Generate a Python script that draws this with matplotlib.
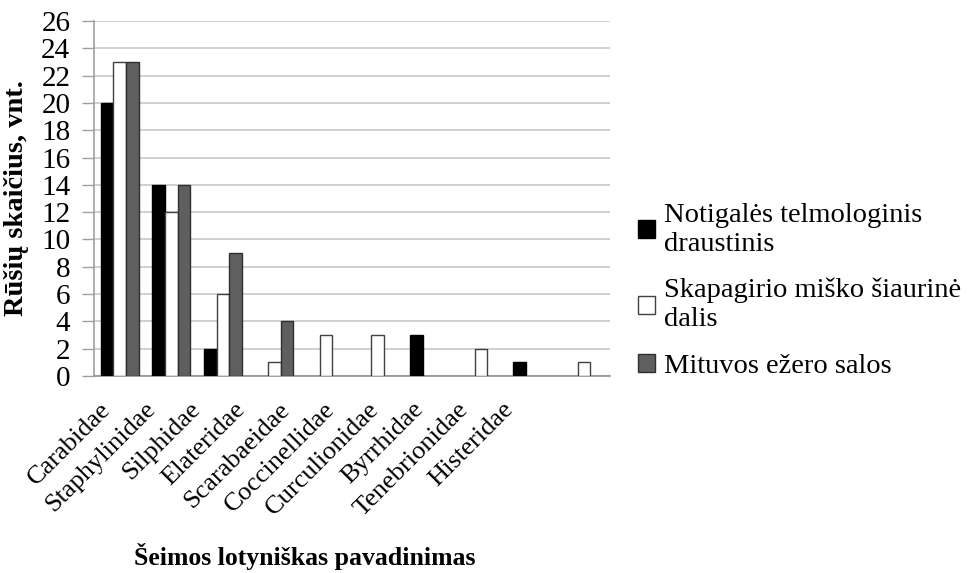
import matplotlib.pyplot as plt
import matplotlib.transforms as mtransforms
import numpy as np

plt.rcParams['font.family'] = ['Liberation Serif', 'DejaVu Serif']

families = ['Carabidae', 'Staphylinidae', 'Silphidae', 'Elateridae', 'Scarabaeidae',
            'Coccinellidae', 'Curculionidae', 'Byrrhidae', 'Tenebrionidae', 'Histeridae']
notigales = [20, 14, 2, 0, 0, 0, 3, 0, 1, 0]
skapagirio = [23, 12, 6, 1, 3, 3, 0, 2, 0, 1]
mituvos = [23, 14, 9, 4, 0, 0, 0, 0, 0, 0]
series_names = ['Notigalės telmologinis\ndraustinis',
                'Skapagirio miško šiaurinė\ndalis',
                'Mituvos ežero salos']


def main():
    fig = plt.figure(figsize=(9.68, 5.73), dpi=100)
    ax = fig.add_axes([0.097, 0.344, 0.533, 0.619])

    x = np.arange(len(families))
    w = 0.245
    colors = ['black', 'white', '#5f5f5f']
    edges = ['black', '#404040', '#303030']
    for i, (vals, name) in enumerate(zip([notigales, skapagirio, mituvos], series_names)):
        bars = ax.bar(x + (i - 1) * w, vals, w, color=colors[i], edgecolor=edges[i],
                      linewidth=1.0, label=name, zorder=3)
        # empty bars are not drawn at all
        for b, v in zip(bars, vals):
            if v == 0:
                b.set_visible(False)

    ax.set_xlim(-0.5, len(families) - 0.5)
    ax.set_ylim(0, 26)
    ax.set_yticks(range(0, 27, 2))
    ax.tick_params(axis='y', labelsize=21, length=9, color='#a0a0a0', width=1, pad=8)
    ax.tick_params(axis='x', length=0, labelsize=19, pad=6)
    ax.set_xticks(x)
    ax.set_xticklabels(families, rotation=45, ha='right', rotation_mode='anchor')
    # the category labels sit a bit tighter than the bars in the original
    for i, lbl in enumerate(ax.get_xticklabels()):
        dx = -20 - 6.9 * i
        shift = mtransforms.ScaledTranslation(dx / 100, -14 / 100, fig.dpi_scale_trans)
        lbl.set_transform(lbl.get_transform() + shift)
    ax.grid(axis='y', color='#c8c8c8', linewidth=1.2, zorder=0)
    for s in ['top', 'right']:
        ax.spines[s].set_visible(False)
    ax.spines['left'].set_color('#a0a0a0')
    ax.spines['bottom'].set_color('#909090')
    ax.spines['left'].set_linewidth(1.2)
    ax.spines['bottom'].set_linewidth(1.2)

    ax.set_ylabel('Rūšių skaičius, vnt.', fontsize=20.5, fontweight='bold')
    ax.yaxis.set_label_coords(-0.125, 0.5)
    ax.set_xlabel('Šeimos lotyniškas pavadinimas', fontsize=18.5, fontweight='bold')
    ax.xaxis.set_label_coords(0.409, -0.47)

    ax.legend(loc='center left', bbox_to_anchor=(1.005, 0.24), frameon=False,
              fontsize=20.5, handlelength=0.6, handleheight=0.6, handletextpad=0.3,
              labelspacing=0.75)

    fig.savefig('out.png', dpi=100)


if __name__ == "__main__":
    main()
